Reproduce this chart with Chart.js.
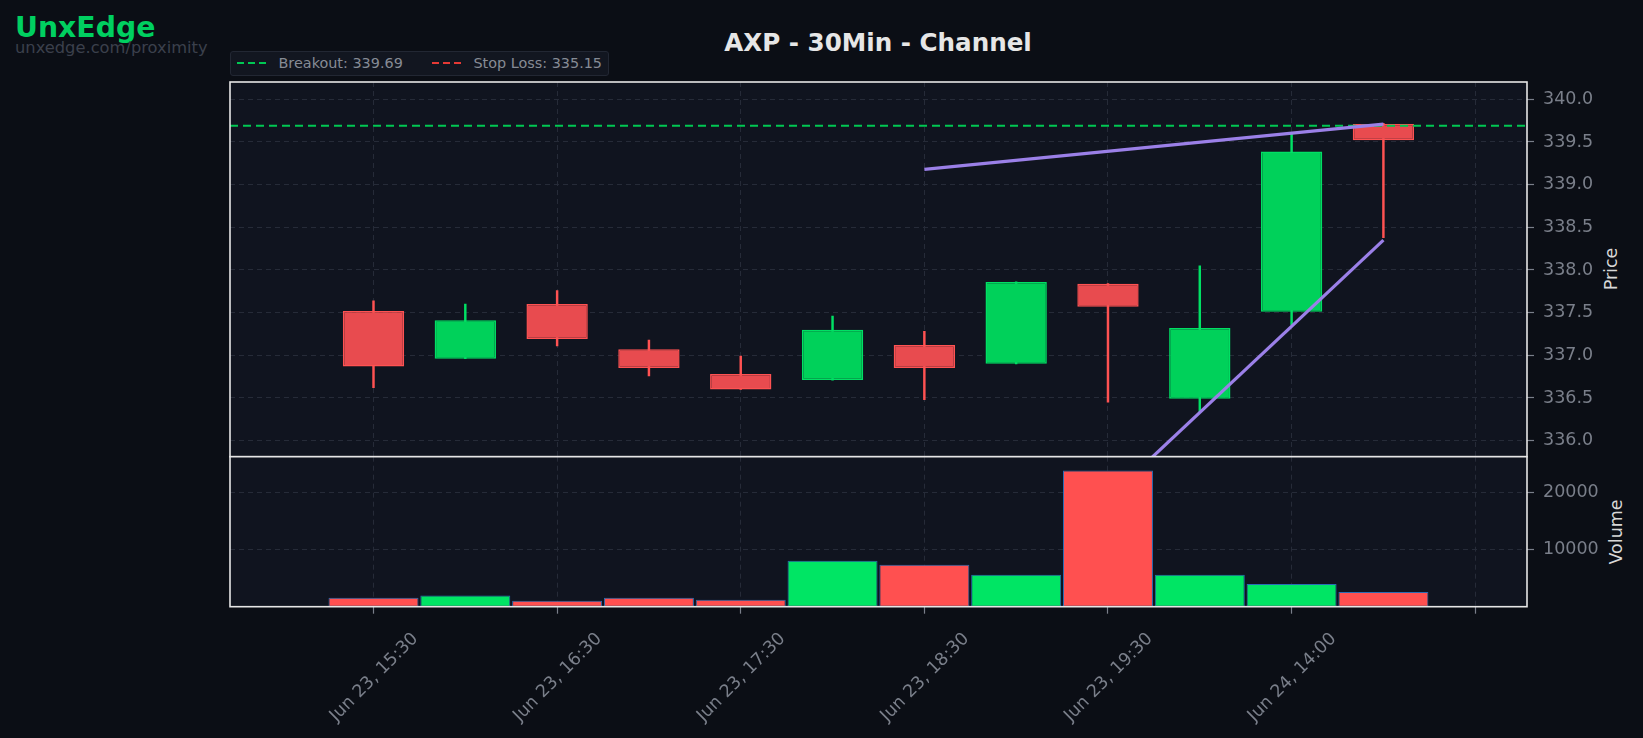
<!DOCTYPE html>
<html>
<head>
<meta charset="utf-8">
<script src="https://cdn.jsdelivr.net/npm/chart.js@4.4.1/dist/chart.umd.min.js"></script>
<style>
  html, body { margin: 0; padding: 0; background: #0b0e15; }
  body { width: 1643px; height: 738px; position: relative; overflow: hidden; font-family: "DejaVu Sans", sans-serif; }
  canvas { position: absolute; left: 0; }
  #priceCanvas { top: 0; }
  #volumeCanvas { top: 430px; }
  .brand { position: absolute; left: 15px; top: 14.4px; line-height: 1; font-size: 28.3px; font-weight: bold; color: #00d060; }
  .site { position: absolute; left: 15px; top: 39.5px; line-height: 1; font-size: 16.3px; color: #3b404c; }
  .title { position: absolute; left: 878px; top: 31px; line-height: 1; font-size: 24.6px; font-weight: bold; color: #e6e6e6; transform: translateX(-50%); white-space: nowrap; }
  .legend { position: absolute; left: 230.4px; top: 50.7px; height: 25.3px; box-sizing: border-box; padding: 0 6px; display: flex; align-items: center;
            background: #121620; border: 1px solid #222733; border-radius: 3px; font-size: 14.4px; color: #868b95; white-space: nowrap; }
  .legend .sample { width: 28.6px; height: 2px; margin-right: 12.5px; }
  .legend .gap { width: 29.5px; }
  .axis-title { position: absolute; font-size: 17.5px; color: #d8d8d8; line-height: 1; white-space: nowrap; transform: translate(-50%, -50%) rotate(-90deg); }
</style>
</head>
<body>
<div class="brand">UnxEdge</div>
<div class="site">unxedge.com/proximity</div>
<div class="title">AXP - 30Min - Channel</div>
<div class="legend">
  <span class="sample" style="background: repeating-linear-gradient(90deg, #00c853 0 7px, transparent 7px 11px);"></span>
  <span id="breakoutText"></span>
  <span class="gap"></span>
  <span class="sample" style="background: repeating-linear-gradient(90deg, #e53935 0 7px, transparent 7px 11px);"></span>
  <span id="stopText"></span>
</div>
<div class="axis-title" style="left: 1612px; top: 269.4px;">Price</div>
<div class="axis-title" style="left: 1616.5px; top: 531.7px;">Volume</div>

<canvas id="priceCanvas" width="1643" height="490"></canvas>
<canvas id="volumeCanvas" width="1643" height="308"></canvas>

<script>
// 30 minute bars, x = bar index
const timeLabels = [
  "Jun 23, 15:30", "Jun 23, 16:00", "Jun 23, 16:30", "Jun 23, 17:00",
  "Jun 23, 17:30", "Jun 23, 18:00", "Jun 23, 18:30", "Jun 23, 19:00",
  "Jun 23, 19:30", "Jun 24, 13:30", "Jun 24, 14:00", "Jun 24, 14:30"
];
const openPrices  = [337.52, 336.96, 337.60, 337.07, 336.78, 336.71, 337.12, 336.90, 337.84, 336.49, 337.51, 339.71];
const highPrices  = [337.64, 337.60, 337.76, 337.18, 336.99, 337.46, 337.28, 337.86, 337.84, 338.05, 339.59, 339.72];
const lowPrices   = [336.62, 336.96, 337.11, 336.76, 336.60, 336.71, 336.48, 336.90, 336.45, 336.34, 337.36, 338.38];
const closePrices = [336.87, 337.41, 337.19, 336.85, 336.60, 337.30, 336.85, 337.86, 337.57, 337.32, 339.39, 339.52];
const volumes     = [1550, 1960, 1020, 1550, 1200, 8040, 7340, 5610, 23840, 5610, 3980, 2590];

const breakoutLevel = 339.69;
const stopLossLevel = 335.15;
const upperChannel = [{ x: 6, y: 339.18 }, { x: 11, y: 339.71 }];
const lowerChannel = [{ x: 6, y: 333.30 }, { x: 11, y: 338.35 }];

const xTickValues = [0, 2, 4, 6, 8, 10, 12];
const priceTicks = [336.0, 336.5, 337.0, 337.5, 338.0, 338.5, 339.0, 339.5, 340.0];
const volumeTicks = [10000, 20000];

const xMin = -1.563, xMax = 12.564;
const priceMin = 335.812, priceMax = 340.203;
const volumeMax = 26250;

document.getElementById("breakoutText").textContent = "Breakout: " + breakoutLevel.toFixed(2);
document.getElementById("stopText").textContent = "Stop Loss: " + stopLossLevel.toFixed(2);

const upColor = "#00d15a", upEdge = "#00e064";
const downColor = "#e84b4f", downEdge = "#ff5252";
const gridColor = "#262b38";
const tickColor = "#7a7f8a";

Chart.defaults.font.family = "DejaVu Sans";
Chart.defaults.font.size = 17.5;
Chart.defaults.color = tickColor;

const isUp = closePrices.map((c, i) => c >= openPrices[i]);

// plot background + white frame round each panel
const panelFrame = {
  id: "panelFrame",
  beforeDraw(chart) {
    const { ctx, chartArea: a } = chart;
    ctx.save();
    ctx.fillStyle = "#10141f";
    ctx.fillRect(a.left, a.top, a.right - a.left, a.bottom - a.top);
    ctx.restore();
  },
  afterDraw(chart) {
    const { ctx, chartArea: a } = chart;
    ctx.save();
    ctx.strokeStyle = "#e6e6e6";
    ctx.lineWidth = 1.6;
    ctx.strokeRect(a.left, a.top, a.right - a.left, a.bottom - a.top);
    ctx.restore();
  }
};

const setTicks = (values) => (scale) => { scale.ticks = values.map((v) => ({ value: v })); };

new Chart(document.getElementById("priceCanvas"), {
  type: "bar",
  data: {
    datasets: [
      { type: "line", label: "upper", data: upperChannel, borderColor: "#9b80e8", borderWidth: 3.2, pointRadius: 0, clip: 0 },
      { type: "line", label: "lower", data: lowerChannel, borderColor: "#9b80e8", borderWidth: 3.2, pointRadius: 0, clip: 0 },
      { type: "line", label: "Breakout", data: [{ x: xMin, y: breakoutLevel }, { x: xMax, y: breakoutLevel }],
        borderColor: "#00c853", borderWidth: 2, borderDash: [8, 5], pointRadius: 0, clip: 0 },
      { type: "line", label: "Stop Loss", data: [{ x: xMin, y: stopLossLevel }, { x: xMax, y: stopLossLevel }],
        borderColor: "#e53935", borderWidth: 2, borderDash: [8, 5], pointRadius: 0, clip: 0 },
      {
        label: "body",
        data: openPrices.map((o, i) => ({ x: i, y: [o, closePrices[i]] })),
        backgroundColor: isUp.map((u) => (u ? upColor : downColor)),
        borderColor: isUp.map((u) => (u ? upEdge : downEdge)),
        borderWidth: 1.5,
        borderSkipped: false,
        grouped: false,
        categoryPercentage: 1,
        barPercentage: 0.668
      },
      {
        label: "wick",
        data: lowPrices.map((l, i) => ({ x: i, y: [l, highPrices[i]] })),
        backgroundColor: isUp.map((u) => (u ? upEdge : downEdge)),
        borderWidth: 0,
        grouped: false,
        barThickness: 1.8
      }
    ]
  },
  options: {
    responsive: false,
    devicePixelRatio: 1,
    animation: false,
    events: [],
    layout: { padding: { left: 230, top: 82, right: 0, bottom: 33.3 } },
    plugins: { legend: { display: false }, tooltip: { enabled: false } },
    scales: {
      x: {
        type: "linear", min: xMin, max: xMax, offset: false,
        afterBuildTicks: setTicks(xTickValues),
        afterFit: (s) => { s.height = 0; },
        ticks: { display: false },
        grid: { color: gridColor, drawTicks: false, offset: false },
        border: { display: false, dash: [5, 4] }
      },
      y: {
        position: "right", min: priceMin, max: priceMax,
        afterBuildTicks: setTicks(priceTicks),
        afterFit: (s) => { s.width = 116; },
        ticks: { padding: 9, callback: (v) => v.toFixed(1) },
        grid: { color: gridColor, tickColor: tickColor, tickLength: 7, tickWidth: 1.2, tickBorderDash: [] },
        border: { display: false, dash: [5, 4] }
      }
    }
  },
  plugins: [panelFrame]
});

new Chart(document.getElementById("volumeCanvas"), {
  type: "bar",
  data: {
    datasets: [{
      label: "Volume",
      data: volumes.map((v, i) => ({ x: i, y: v })),
      backgroundColor: isUp.map((u) => (u ? "#00e564" : "#ff5050")),
      borderColor: "#2a6db5",
      borderWidth: 1,
      borderSkipped: false,
      categoryPercentage: 1,
      barPercentage: 0.98
    }]
  },
  options: {
    responsive: false,
    devicePixelRatio: 1,
    animation: false,
    events: [],
    layout: { padding: { left: 230, top: 26.7, right: 0, bottom: 0 } },
    plugins: { legend: { display: false }, tooltip: { enabled: false } },
    scales: {
      x: {
        type: "linear", min: xMin, max: xMax, offset: false,
        afterBuildTicks: setTicks(xTickValues),
        afterFit: (s) => { s.height = 131.3; },
        ticks: {
          autoSkip: false, minRotation: 45, maxRotation: 45,
          labelOffset: 42, padding: 15,
          callback: (v) => timeLabels[v] || ""
        },
        grid: { color: gridColor, tickColor: tickColor, tickLength: 7, tickWidth: 1.2, tickBorderDash: [], offset: false },
        border: { display: false, dash: [5, 4] }
      },
      y: {
        position: "right", min: 0, max: volumeMax,
        afterBuildTicks: setTicks(volumeTicks),
        afterFit: (s) => { s.width = 116; },
        ticks: { padding: 9, callback: (v) => String(v) },
        grid: { color: gridColor, tickColor: tickColor, tickLength: 7, tickWidth: 1.2, tickBorderDash: [] },
        border: { display: false, dash: [5, 4] }
      }
    }
  },
  plugins: [panelFrame]
});
</script>
</body>
</html>
